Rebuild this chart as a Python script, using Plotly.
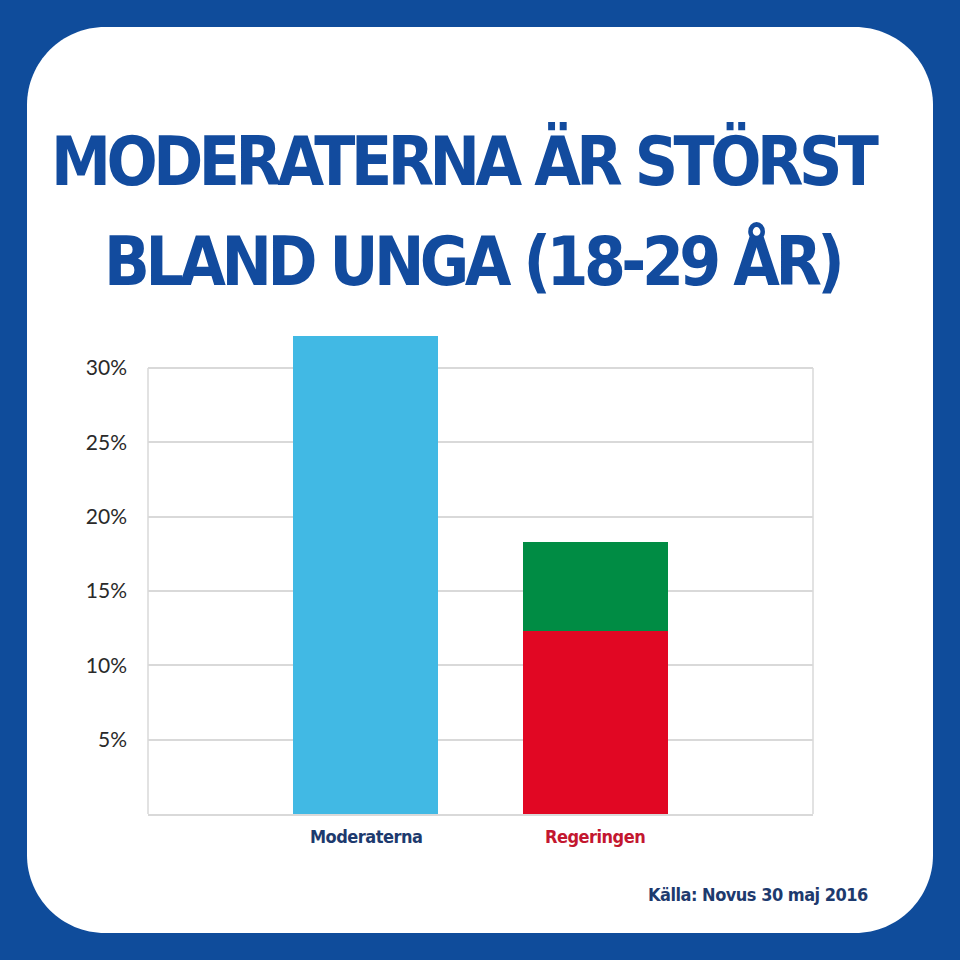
import plotly.graph_objects as go

categories = ["Moderaterna", "Regeringen"]
blue_vals = [32.1, 0]      # Moderaterna
red_vals = [0, 12.3]       # Regeringen, lower part
green_vals = [0, 6.0]      # Regeringen, upper part
tick_vals = [5, 10, 15, 20, 25, 30]
tick_text = ["5%", "10%", "15%", "20%", "25%", "30%"]
title_lines = ["MODERATERNA ÄR STÖRST", "BLAND UNGA (18-29 ÅR)"]
source_text = "Källa: Novus 30 maj 2016"

W = H = 960
BG_BLUE = "#0F4C9B"
TITLE_BLUE = "#124B9E"
NAVY = "#1D3A6E"
RED_TXT = "#C3172F"
GRID = "#D9D9D9"
COND = "Noto Sans Condensed, DejaVu Sans Condensed, Liberation Sans Narrow, Roboto Condensed, Roboto, sans-serif"

x_idx = [0, 1]
fig = go.Figure()
fig.add_bar(x=x_idx, y=blue_vals, marker_color="#41B9E4", width=0.63, marker_line_width=0)
fig.add_bar(x=x_idx, y=red_vals, marker_color="#E10723", width=0.63, marker_line_width=0)
fig.add_bar(x=x_idx, y=green_vals, marker_color="#008C44", width=0.63, marker_line_width=0)

# plot geometry in pixels
px_left, px_right = 148, 813
px_zero, px_30 = 814, 368
ymax = 33.0
unit = (px_zero - px_30) / 30.0
px_top = px_zero - ymax * unit

# rounded white panel (paper coords, margins 0)
def P(x, y):
    return f"{x / W:.5f},{1 - y / H:.5f}"

x0, y0, x1, y1, r = 27, 27, 933, 933, 78
k = r * 0.5523
path = (
    f"M {P(x0 + r, y0)} L {P(x1 - r, y0)} "
    f"C {P(x1 - r + k, y0)} {P(x1, y0 + r - k)} {P(x1, y0 + r)} "
    f"L {P(x1, y1 - r)} "
    f"C {P(x1, y1 - r + k)} {P(x1 - r + k, y1)} {P(x1 - r, y1)} "
    f"L {P(x0 + r, y1)} "
    f"C {P(x0 + r - k, y1)} {P(x0, y1 - r + k)} {P(x0, y1 - r)} "
    f"L {P(x0, y0 + r)} "
    f"C {P(x0, y0 + r - k)} {P(x0 + r - k, y0)} {P(x0 + r, y0)} Z"
)

shapes = [
    dict(type="path", xref="paper", yref="paper", path=path,
         fillcolor="white", line=dict(width=0), layer="below"),
    dict(type="line", xref="x domain", yref="y", x0=0, x1=0, y0=0, y1=30,
         line=dict(color=GRID, width=1.5), layer="below"),
    dict(type="line", xref="x domain", yref="y", x0=1, x1=1, y0=0, y1=30,
         line=dict(color=GRID, width=1.5), layer="below"),
]

def tight(s, px):
    return f"<span style='letter-spacing:{px}px'>{s}</span>"

annotations = [
    dict(text=tight(title_lines[0], -4.5), xref="paper", yref="paper", x=465 / W, y=1 - 162 / H,
         showarrow=False, xanchor="center", yanchor="middle",
         font=dict(family=COND, size=67, color=TITLE_BLUE, weight="bold")),
    dict(text=tight(title_lines[1], -4.5), xref="paper", yref="paper", x=472 / W, y=1 - 261 / H,
         showarrow=False, xanchor="center", yanchor="middle",
         font=dict(family=COND, size=67, color=TITLE_BLUE, weight="bold")),
    dict(text=tight(source_text, -0.5), xref="paper", yref="paper", x=870 / W, y=1 - 894 / H,
         showarrow=False, xanchor="right", yanchor="middle",
         font=dict(family=COND, size=18, color=NAVY, weight="bold")),
]
label_colors = [NAVY, RED_TXT]
for i, c in enumerate(categories):
    annotations.append(dict(text=tight(c, -0.5), xref="x", yref="paper", x=i, y=1 - 836 / H,
                            showarrow=False, xanchor="center", yanchor="middle",
                            font=dict(family=COND, size=18, color=label_colors[i], weight="bold")))

fig.update_layout(
    width=W, height=H,
    margin=dict(l=0, r=0, t=0, b=0),
    paper_bgcolor=BG_BLUE,
    plot_bgcolor="rgba(0,0,0,0)",
    barmode="stack",
    bargap=0,
    showlegend=False,
    shapes=shapes,
    annotations=annotations,
    xaxis=dict(domain=[px_left / W, px_right / W], range=[-0.946, 1.946],
               showticklabels=False, showgrid=False, zeroline=False,
               showline=True, linecolor=GRID, linewidth=1.5, fixedrange=True),
    yaxis=dict(domain=[1 - px_zero / H, 1 - px_top / H], range=[0, ymax],
               tickvals=tick_vals, ticktext=tick_text, showgrid=True,
               gridcolor=GRID, gridwidth=1.5, zeroline=False, showline=False,
               ticks="", ticklabelstandoff=20,
               tickfont=dict(family="Lato, Open Sans, sans-serif", size=21, color="#2a2a2a")),
)

fig.write_html("out.html", config={"displayModeBar": False},
               post_script="document.body.style.margin='0';document.body.style.overflow='hidden';")
